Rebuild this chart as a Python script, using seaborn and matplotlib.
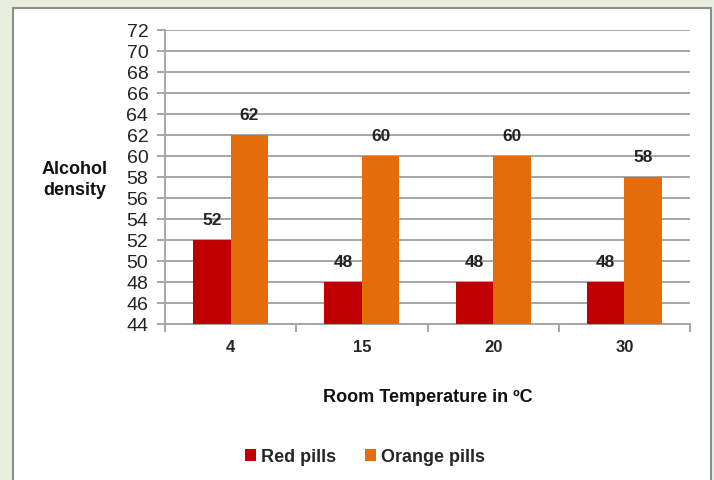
import matplotlib
matplotlib.use("Agg")
import matplotlib.pyplot as plt
from matplotlib.patches import Rectangle
import seaborn as sns
import pandas as pd
import numpy as np

temperatures = ["4", "15", "20", "30"]
red_pills = [52, 48, 48, 48]
orange_pills = [62, 60, 60, 58]
series_names = ["Red pills", "Orange pills"]
y_ticks = list(range(44, 73, 2))

df = pd.DataFrame({
    "Temperature": temperatures * 2,
    "Density": red_pills + orange_pills,
    "Series": [series_names[0]] * 4 + [series_names[1]] * 4,
})

sns.set_theme(style="white")
plt.rcParams["font.family"] = ["Liberation Sans", "DejaVu Sans"]

W, H = 714, 481
fig = plt.figure(figsize=(W / 100, H / 100), dpi=100)
fig.patch.set_facecolor("#e9efdf")
fig.patches.append(Rectangle((13 / W, -0.02), (711 - 13) / W, 1 - 9 / H + 0.02,
                             transform=fig.transFigure, facecolor="white",
                             edgecolor="#8c8c8c", linewidth=1.5, zorder=-10))

ax = fig.add_axes([165 / W, 1 - 325 / H, (690 - 165) / W, (325 - 31) / H])
ax.set_zorder(5)
ax.set_facecolor("none")

colors = {"Red pills": "#c00000", "Orange pills": "#e46c0a"}
sns.barplot(data=df, x="Temperature", y="Density", hue="Series",
            palette=colors, width=0.57, gap=0, saturation=1, linewidth=0,
            ax=ax, legend=True, zorder=3)

ax.set_ylim(44, 72)
ax.set_yticks(y_ticks)
ax.set_yticklabels([str(t) for t in y_ticks], fontsize=14, color="#222222")
ax.yaxis.grid(True, color="#a6a6a6", linewidth=1.4, zorder=0)
ax.set_axisbelow(True)
ax.tick_params(axis="y", length=6, width=1.4, color="#a6a6a6", pad=6, left=True)

ax.set_xlim(-0.5, 3.5)
ax.tick_params(axis="x", which="major", length=0, pad=11, labelsize=12)
for lbl in ax.get_xticklabels():
    lbl.set_fontweight("bold")
ax.set_xticks(np.arange(-0.5, 3.6, 1.0), minor=True)
ax.tick_params(axis="x", which="minor", length=6, width=1.4, color="#a6a6a6", bottom=True)

for side in ["top", "right"]:
    ax.spines[side].set_visible(False)
for side in ["left", "bottom"]:
    ax.spines[side].set_color("#a6a6a6")
    ax.spines[side].set_linewidth(1.4)

for cont in ax.containers:
    ax.bar_label(cont, fmt="%d", padding=9, fontsize=12.5, fontweight="bold", color="#222222")

ax.set_xlabel("")
ax.set_ylabel("")
fig.text(75 / W, 1 - 180 / H, "Alcohol\ndensity", ha="center", va="center",
         fontsize=13, fontweight="bold", color="#111111", linespacing=1.3)
fig.text(428 / W, 1 - 398 / H, "Room Temperature in ºC", ha="center", va="center",
         fontsize=13, fontweight="bold", color="#111111")

handles, labels = ax.get_legend_handles_labels()
ax.get_legend().remove()
fig.legend(handles, labels, loc="center", bbox_to_anchor=(365 / W, 1 - 458 / H),
           ncol=2, frameon=False, prop={"weight": "bold", "size": 13},
           handlelength=0.6, handleheight=0.6, handletextpad=0.3, columnspacing=1.6)

fig.savefig("out.png", dpi=100, facecolor=fig.get_facecolor())
